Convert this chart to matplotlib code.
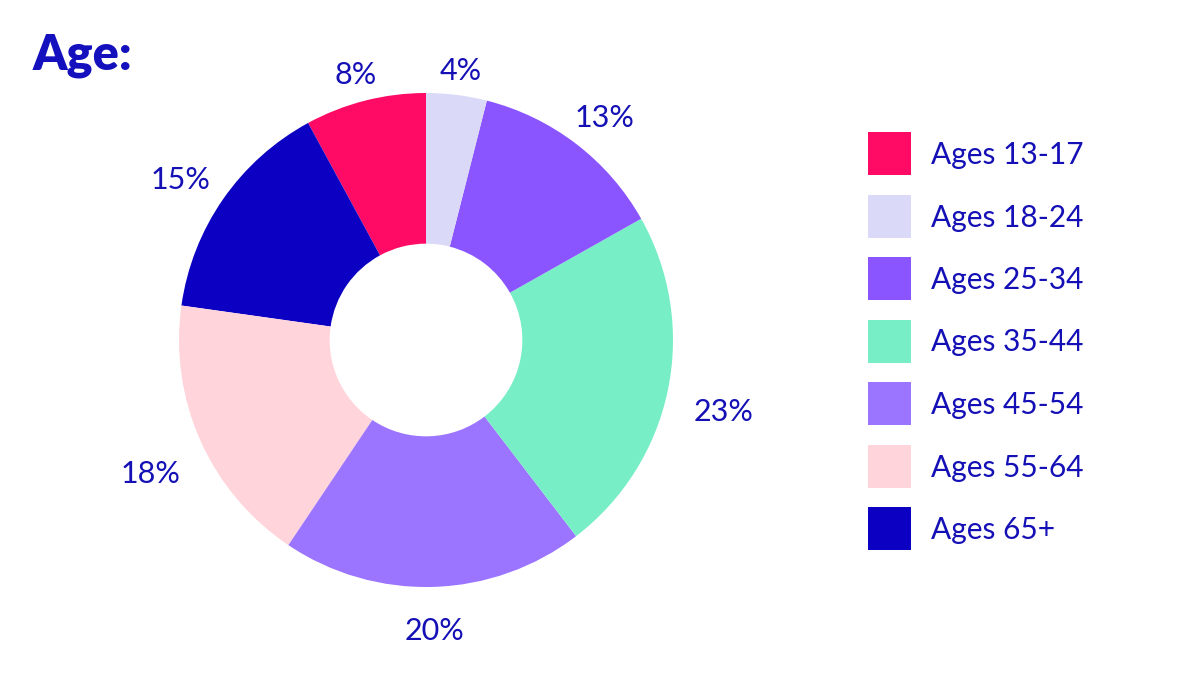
import matplotlib
matplotlib.use("Agg")
import matplotlib.pyplot as plt
import numpy as np

plt.rcParams['font.family'] = ['Lato', 'DejaVu Sans']

categories = ["Ages 13-17", "Ages 18-24", "Ages 25-34", "Ages 35-44",
              "Ages 45-54", "Ages 55-64", "Ages 65+"]
shares = [8, 4, 13, 23, 20, 18, 15]
colors = ["#FF0A64", "#DADAF8", "#8A55FF", "#78EEC6", "#9B74FF", "#FFD4DA", "#0C00C2"]

# pie drawn counterclockwise from the top, same as the original
pie_order = [0, 6, 5, 4, 3, 2, 1]
text_col = "#1410B6"

fig = plt.figure(figsize=(12, 6.75), dpi=100)
W, H = 1200, 675
cx, cy, r = 426, 340, 247
ax = fig.add_axes([(cx - r) / W, (H - cy - r) / H, 2 * r / W, 2 * r / H])

vals = [shares[i] for i in pie_order]
cols = [colors[i] for i in pie_order]
wedges, _ = ax.pie(vals, colors=cols, startangle=90, counterclock=True,
                   radius=1, wedgeprops=dict(width=0.61, linewidth=0))
ax.set_xlim(-1, 1)
ax.set_ylim(-1, 1)
ax.set_aspect('equal')
ax.axis('off')

total = sum(vals)
start = 90
for v in vals:
    mid = np.deg2rad(start + v / total * 180)
    start += v / total * 360
    # wider labels sit a bit further out on the sides
    d = 1.13 + 0.1 * abs(np.cos(mid))
    ax.text(d * np.cos(mid), d * np.sin(mid) - 0.045, f"{v}%", ha='center', va='center',
            fontsize=22, color=text_col, clip_on=False)

fig.text(33 / W, 1 - 55 / H, "Age:", fontsize=35, fontweight='heavy', color="#1410BE",
         ha='left', va='center')

# legend drawn as squares and labels in figure pixels
for k, (lab, c) in enumerate(zip(categories, colors)):
    y = 132 + k * 62.5
    fig.patches.append(plt.Rectangle((868 / W, 1 - (y + 43) / H), 43 / W, 43 / H,
                                     transform=fig.transFigure, facecolor=c, edgecolor='none'))
    fig.text(931 / W, 1 - (y + 23) / H, lab, fontsize=21.5, color=text_col,
             ha='left', va='center')

fig.savefig("out.png", dpi=100, facecolor='white')
